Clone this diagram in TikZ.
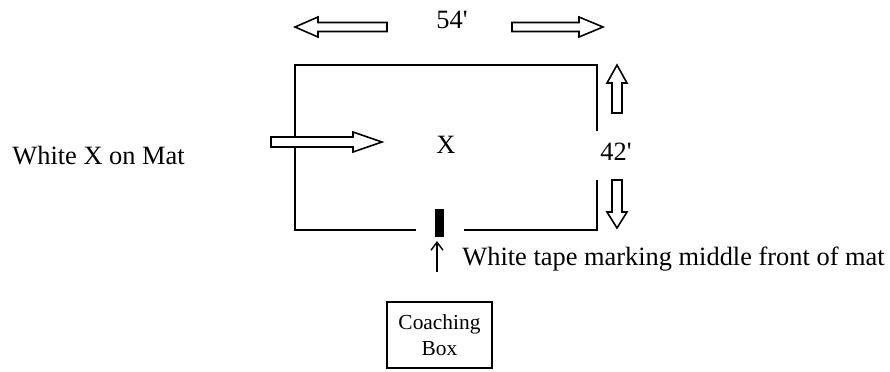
\documentclass[tikz,border=0pt]{standalone}
\usepackage{fontspec}
\setmainfont{Liberation Serif}
\newfontfamily\plainquote{Liberation Serif}[Ligatures=ResetAll]
\usetikzlibrary{arrows.meta}
\tikzset{
  matline/.style={line width=1pt},
  blockarrow/.style={line width=0.8pt, fill=white, line join=miter},
  lbl/.style={inner sep=0pt, font=\fontsize{13.2}{15}\selectfont},
  smalllbl/.style={inner sep=0pt, font=\fontsize{10.7}{13}\selectfont, align=center},
}
\newcommand{\sq}{{\plainquote\XeTeXglyph\XeTeXglyphindex "quotesingle"\relax}}
\begin{document}
\begin{tikzpicture}[x=0.5pt,y=-0.5pt]
\useasboundingbox (0,0) rectangle (890,371);
% mat outline with gaps
\draw[matline] (597,131) -- (597,65) -- (295,65) -- (295,230) -- (416,230);
\draw[matline] (464,230) -- (597,230) -- (597,180);
% tape
\fill (435,209) rectangle (444,237);
% top arrows (54')
\draw[blockarrow] (295,27) -- (318,17) -- (318,22.5) -- (387,22.5) -- (387,31.5) -- (318,31.5) -- (318,37) -- cycle;
\draw[blockarrow] (603,27) -- (579,17) -- (579,22.5) -- (512,22.5) -- (512,31.5) -- (579,31.5) -- (579,37) -- cycle;
\node[lbl, anchor=base] (w) at (452,28) {54\sq};
% arrow into mat
\draw[blockarrow] (382,142) -- (353,132) -- (353,137) -- (271,137) -- (271,147) -- (353,147) -- (353,152) -- cycle;
% vertical arrows (42')
\draw[blockarrow] (617,65) -- (627,83) -- (622,83) -- (622,113) -- (612,113) -- (612,83) -- (607,83) -- cycle;
\draw[blockarrow] (617,228) -- (627,212) -- (622,212) -- (622,180) -- (612,180) -- (612,212) -- (607,212) -- cycle;
\node[lbl, anchor=base] (h) at (616,160) {42\sq};
% labels
\node[lbl, anchor=base] (x) at (446,153) {X};
\node[lbl, anchor=base west] (wx) at (12,164) {White X on Mat};
\node[lbl, anchor=base west] (tape) at (462,265) {White tape marking middle front of mat};
% small arrow to tape
\coordinate (tapeTail) at (437,272);
\coordinate (tapeTip) at (437,241);
\draw[line width=0.7pt, -{Straight Barb[length=4pt,width=6pt]}] (tapeTail) -- (tapeTip);
% coaching box
\node[draw, line width=0.9pt, smalllbl, minimum width=52.5pt, minimum height=33pt] (cb) at (439.5,335) {Coaching\\Box};
\end{tikzpicture}
\end{document}
